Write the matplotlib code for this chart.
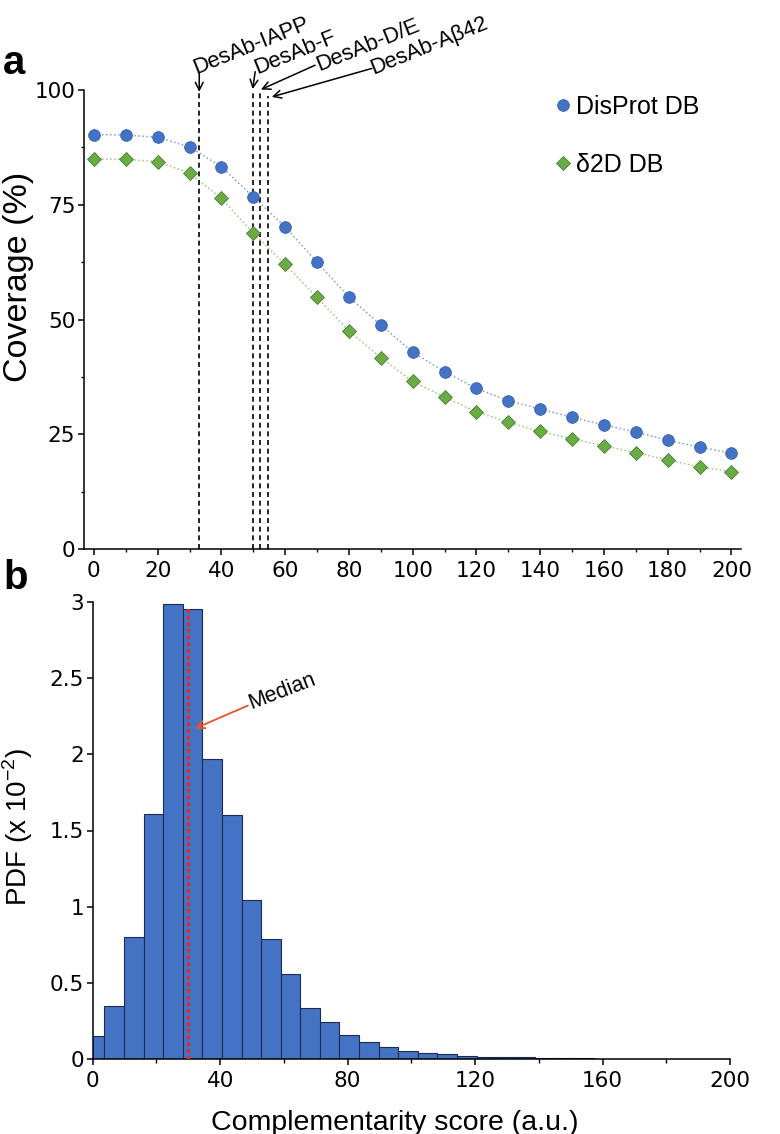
import numpy as np
import matplotlib
matplotlib.use("Agg")
import matplotlib.pyplot as plt
from matplotlib.lines import Line2D

# ---------------- data ----------------
score_threshold = [0, 10, 20, 30, 40, 50, 60, 70, 80, 90, 100,
                   110, 120, 130, 140, 150, 160, 170, 180, 190, 200]
disprot_cov = [90.3, 90.2, 89.7, 87.6, 83.3, 76.7, 70.2, 62.5, 54.9, 48.8, 42.9,
               38.6, 35.0, 32.3, 30.5, 28.7, 27.0, 25.5, 23.7, 22.2, 20.9]
d2d_cov = [85.0, 84.9, 84.4, 81.9, 76.4, 68.8, 62.0, 54.8, 47.5, 41.7, 36.5,
           33.1, 29.9, 27.6, 25.6, 24.0, 22.5, 21.0, 19.4, 17.9, 16.8]
series_labels = ["DisProt DB", "δ2D DB"]

desab_names = ["DesAb-IAPP", "DesAb-F", "DesAb-D/E", "DesAb-Aβ42"]
desab_scores = [33.0, 50.0, 52.0, 54.5]

hist_start = -2.5
hist_width = 6.15
pdf_heights = [0.15, 0.35, 0.80, 1.61, 2.99, 2.955, 1.97, 1.60, 1.045, 0.79,
               0.555, 0.335, 0.245, 0.16, 0.11, 0.078, 0.053, 0.038, 0.030, 0.020,
               0.016, 0.012, 0.010, 0.007, 0.005, 0.004, 0.003, 0.002, 0.002]
median_score = 30.0

# ---------------- style ----------------
plt.rcParams['font.family'] = ['DejaVu Sans']
plt.rcParams['mathtext.fontset'] = 'custom'
plt.rcParams['mathtext.rm'] = 'Liberation Sans'
LAB = ['Liberation Sans', 'DejaVu Sans']

BLUE = "#4472C4"
GREEN = "#6aab45"
BAR = "#4472C4"
RED = "#e02b2b"
ORANGE = "#e8502f"

W, H = 780, 1134
fig = plt.figure(figsize=(W / 100, H / 100), dpi=100)


def fx(px):
    return px / W


def fy(py):
    return 1 - py / H


# ---------------- panel a ----------------
ax1 = fig.add_axes([fx(84), fy(549), fx(741) - fx(84), fy(90) - fy(549)])
ax1.plot(score_threshold, disprot_cov, linestyle=':', color="#7f9fd8", lw=1.1, zorder=2)
ax1.plot(score_threshold, d2d_cov, linestyle=':', color="#9cc77d", lw=1.1, zorder=2)
ax1.plot(score_threshold, disprot_cov, linestyle='none', marker='o', ms=8.4,
         mfc=BLUE, mec="#3560ad", mew=0.6, zorder=4)
ax1.plot(score_threshold, d2d_cov, linestyle='none', marker='D', ms=7.2,
         mfc=GREEN, mec="#4c7f30", mew=0.6, zorder=4)

line_tops = [99.3, 100.0, 100.0, 98.6]
for s, top in zip(desab_scores, line_tops):
    ax1.plot([s, s], [0, top], color='black', lw=1.2, linestyle=(0, (3, 2.2)),
             zorder=3, clip_on=False)

# annotations (arrow start, text anchor) in data units
arrow_starts = [(33.05, 103.6), (50.6, 104.0), (69.4, 105.4), (87.2, 104.7)]
arrow_tips = [(33.05, 99.6), (49.8, 100.2), (52.4, 100.1), (55.8, 98.5)]
text_anchors = [(32.2, 103.5), (51.4, 103.4), (70.6, 104.2), (87.7, 103.5)]
for name, st, tp, ta in zip(desab_names, arrow_starts, arrow_tips, text_anchors):
    ax1.annotate('', xy=tp, xytext=st, xycoords='data', textcoords='data',
                 arrowprops=dict(arrowstyle='->', color='black', lw=1.1,
                                 shrinkA=0, shrinkB=0, mutation_scale=14),
                 annotation_clip=False)
    ax1.text(ta[0], ta[1], name, rotation=22, rotation_mode='anchor',
             ha='left', va='baseline', fontsize=15.8, family=LAB, clip_on=False)

ax1.set_xlim(-3.1, 203)
ax1.set_ylim(0, 100)
ax1.set_xticks(np.arange(0, 201, 20))
ax1.set_xticks(np.arange(10, 201, 20), minor=True)
ax1.set_yticks([0, 25, 50, 75, 100])
ax1.set_yticks([12.5, 37.5, 62.5, 87.5], minor=True)
for sp in ['top', 'right']:
    ax1.spines[sp].set_visible(False)
for sp in ['left', 'bottom']:
    ax1.spines[sp].set_linewidth(1.1)
ax1.tick_params(axis='both', which='major', length=4.3, width=1.1, labelsize=15.5, pad=2)
ax1.tick_params(axis='both', which='minor', length=2.5, width=1.0)
ax1.tick_params(axis='x', which='major', pad=4)

handles = [Line2D([], [], linestyle='none', marker='o', ms=8.4, mfc=BLUE, mec="#3560ad", mew=0.6),
           Line2D([], [], linestyle='none', marker='D', ms=7.2, mfc=GREEN, mec="#4c7f30", mew=0.6)]
ax1.legend(handles, series_labels, loc='upper left', bbox_to_anchor=(fx(555), fy(95)),
           bbox_transform=fig.transFigure, frameon=False, borderpad=0, borderaxespad=0,
           handlelength=0.6, handletextpad=0.25, labelspacing=1.35, numpoints=1,
           prop={'family': LAB, 'size': 18})

fig.text(fx(19), fy(277), "Coverage (%)", rotation=90, ha='center', va='center',
         fontsize=24.5, family=LAB)
fig.text(fx(3), fy(74), "a", fontsize=29, fontweight='bold', family=LAB,
         ha='left', va='baseline')

# ---------------- panel b ----------------
ax2 = fig.add_axes([fx(92.7), fy(1059), fx(730) - fx(92.7), fy(602) - fy(1059)])
edges = hist_start + hist_width * np.arange(len(pdf_heights))
ax2.bar(edges, pdf_heights, width=hist_width, align='edge', color=BAR,
        edgecolor="#1c2b4f", linewidth=0.8, zorder=2)
ax2.plot([median_score, median_score], [0, 2.97], color=RED, lw=2.4,
         linestyle=(0, (1.1, 0.9)), zorder=3)
ax2.annotate('', xy=(32.1, 2.17), xytext=(48.7, 2.32),
             arrowprops=dict(arrowstyle='->', color=ORANGE, lw=1.3,
                             shrinkA=0, shrinkB=0, mutation_scale=14))
ax2.text(49.9, 2.30, "Median", rotation=21, rotation_mode='anchor', ha='left',
         va='baseline', fontsize=15.5, family=LAB)

ax2.set_xlim(0, 200)
ax2.set_ylim(0, 3)
ax2.set_xticks(np.arange(0, 201, 40))
ax2.set_xticks(np.arange(20, 201, 40), minor=True)
ax2.set_yticks([0, 0.5, 1, 1.5, 2, 2.5, 3])
ax2.set_yticklabels(["0", "0.5", "1", "1.5", "2", "2.5", "3"])
for sp in ['top', 'right']:
    ax2.spines[sp].set_visible(False)
for sp in ['left', 'bottom']:
    ax2.spines[sp].set_linewidth(1.1)
ax2.tick_params(axis='both', which='major', length=4.3, width=1.1, labelsize=15.5, pad=2)
ax2.tick_params(axis='x', which='minor', length=3.0, width=1.0)
ax2.tick_params(axis='x', which='major', pad=4)

fig.text(fx(18), fy(827), r"PDF (x 10$^{\mathregular{-2}}$)", rotation=90,
         ha='center', va='center', fontsize=20, family=LAB)
fig.text(fx(394.5), fy(1130), "Complementarity score (a.u.)", ha='center',
         va='baseline', fontsize=20.5, family=LAB)
fig.text(fx(3), fy(589), "b", fontsize=29, fontweight='bold', family=LAB,
         ha='left', va='baseline')

fig.savefig("out.png", dpi=100)
